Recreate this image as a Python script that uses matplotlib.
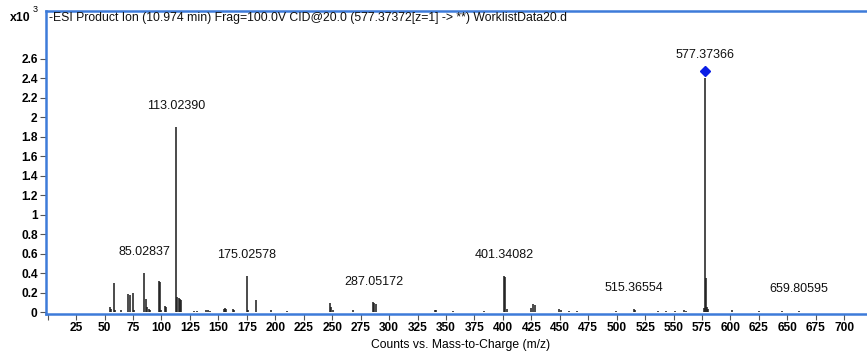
import matplotlib
matplotlib.use("Agg")
import matplotlib.pyplot as plt
from matplotlib.ticker import FixedLocator, FixedFormatter

plt.rcParams['font.family'] = ['Liberation Sans', 'DejaVu Sans']

# ---- data (m/z, counts x10^3) ----
mz = [55.0, 56.0, 58.0, 59.0, 64.0, 71.0, 72.5, 75.0, 76.0,
      85.03, 86.0, 87.0, 89.0, 90.0, 98.0, 99.0, 100.0, 103.0, 104.0,
      113.02, 114.0, 115.0, 116.0, 117.0, 129.0, 131.0, 139.0, 141.0, 143.0,
      155.0, 156.0, 157.0, 163.0, 164.0, 175.03, 176.0, 183.0, 196.0, 210.0,
      248.0, 249.0, 250.5, 268.0, 286.0, 287.05, 288.5, 340.0, 341.0, 356.0,
      383.0, 401.34, 402.3, 403.5, 425.0, 426.5, 428.0, 449.5, 451.0, 458.0,
      465.0, 499.0, 515.37, 516.5, 536.5, 543.5, 551.0, 559.0, 560.5,
      576.4, 577.37, 578.37, 579.37, 580.4, 601.0, 625.5, 645.0, 659.81]
intensity = [0.05, 0.03, 0.30, 0.02, 0.02, 0.19, 0.17, 0.20, 0.02,
             0.40, 0.13, 0.05, 0.03, 0.02, 0.32, 0.31, 0.02, 0.06, 0.05,
             1.90, 0.15, 0.14, 0.13, 0.12, 0.01, 0.01, 0.02, 0.02, 0.01,
             0.03, 0.04, 0.03, 0.03, 0.02, 0.37, 0.02, 0.12, 0.02, 0.015,
             0.09, 0.05, 0.02, 0.02, 0.10, 0.09, 0.08, 0.025, 0.02, 0.015,
             0.01, 0.37, 0.36, 0.03, 0.045, 0.08, 0.07, 0.03, 0.02, 0.015,
             0.015, 0.01, 0.03, 0.02, 0.015, 0.012, 0.015, 0.02, 0.012,
             0.04, 2.40, 0.35, 0.05, 0.03, 0.02, 0.01, 0.006, 0.015]

label_mz = [85.03, 113.02, 175.03, 287.05, 401.34, 515.37, 577.37, 659.81]
label_text = ["85.02837", "113.02390", "175.02578", "287.05172",
              "401.34082", "515.36554", "577.37366", "659.80595"]
precursor_mz = 577.37

xticks = list(range(0, 701, 25))
xtick_labels = [""] + [str(v) for v in range(25, 701, 25)]
yticks = [0, 0.2, 0.4, 0.6, 0.8, 1.0, 1.2, 1.4, 1.6, 1.8, 2.0, 2.2, 2.4, 2.6]
ytick_labels = ["0", "0.2", "0.4", "0.6", "0.8", "1", "1.2", "1.4", "1.6",
                "1.8", "2", "2.2", "2.4", "2.6"]

title = "-ESI Product Ion (10.974 min) Frag=100.0V CID@20.0 (577.37372[z=1] -> **) WorklistData20.d"
xlabel = "Counts vs. Mass-to-Charge (m/z)"

# ---- figure ----
W, H = 867, 351
fig = plt.figure(figsize=(W / 100, H / 100), dpi=100)
ax = fig.add_axes([46 / W, 1 - 314 / H, 1 - 46 / W, (314 - 11) / H])
ax.set_xlim(-1.5, 720)
ax.set_ylim(-0.02, 3.09)

ax.vlines(mz, 0, intensity, color="#1a1a1a", lw=1.1)

lookup = dict(zip(mz, intensity))
for m, t in zip(label_mz, label_text):
    h = lookup.get(m, 0)
    off = 0.24 if m == precursor_mz else 0.22
    ax.text(m, h + off, t, ha="center", va="center", fontsize=9, color="#111111")

ax.plot([precursor_mz], [lookup[precursor_mz] + 0.07], marker="D", color="#0a1ee6",
        markersize=5, linestyle="none")

blue = "#3d7bd9"
for s in ["left", "bottom", "top"]:
    ax.spines[s].set_color(blue)
    ax.spines[s].set_linewidth(1.8)
ax.spines["right"].set_visible(False)

ax.xaxis.set_major_locator(FixedLocator(xticks))
ax.xaxis.set_major_formatter(FixedFormatter(xtick_labels))
ax.yaxis.set_major_locator(FixedLocator(yticks))
ax.yaxis.set_major_formatter(FixedFormatter(ytick_labels))
ax.tick_params(axis="both", direction="out", length=4, width=0.8, color="#555555",
               labelsize=8.6, pad=2)
for lab in ax.get_xticklabels() + ax.get_yticklabels():
    lab.set_fontweight("bold")

fig.text(49 / W, 1 - 18 / H, title, ha="left", va="center",
         fontsize=8.8, color="#111111")
fig.text(10 / W, 1 - 18 / H, "x10", ha="left", va="center", fontsize=8.8, fontweight="bold")
fig.text(33 / W, 1 - 10 / H, "3", ha="left", va="center", fontsize=6.5)
fig.text(461 / W, 1 - 345 / H, xlabel, ha="center", va="center", fontsize=8.7)

fig.savefig("out.png", dpi=100)
